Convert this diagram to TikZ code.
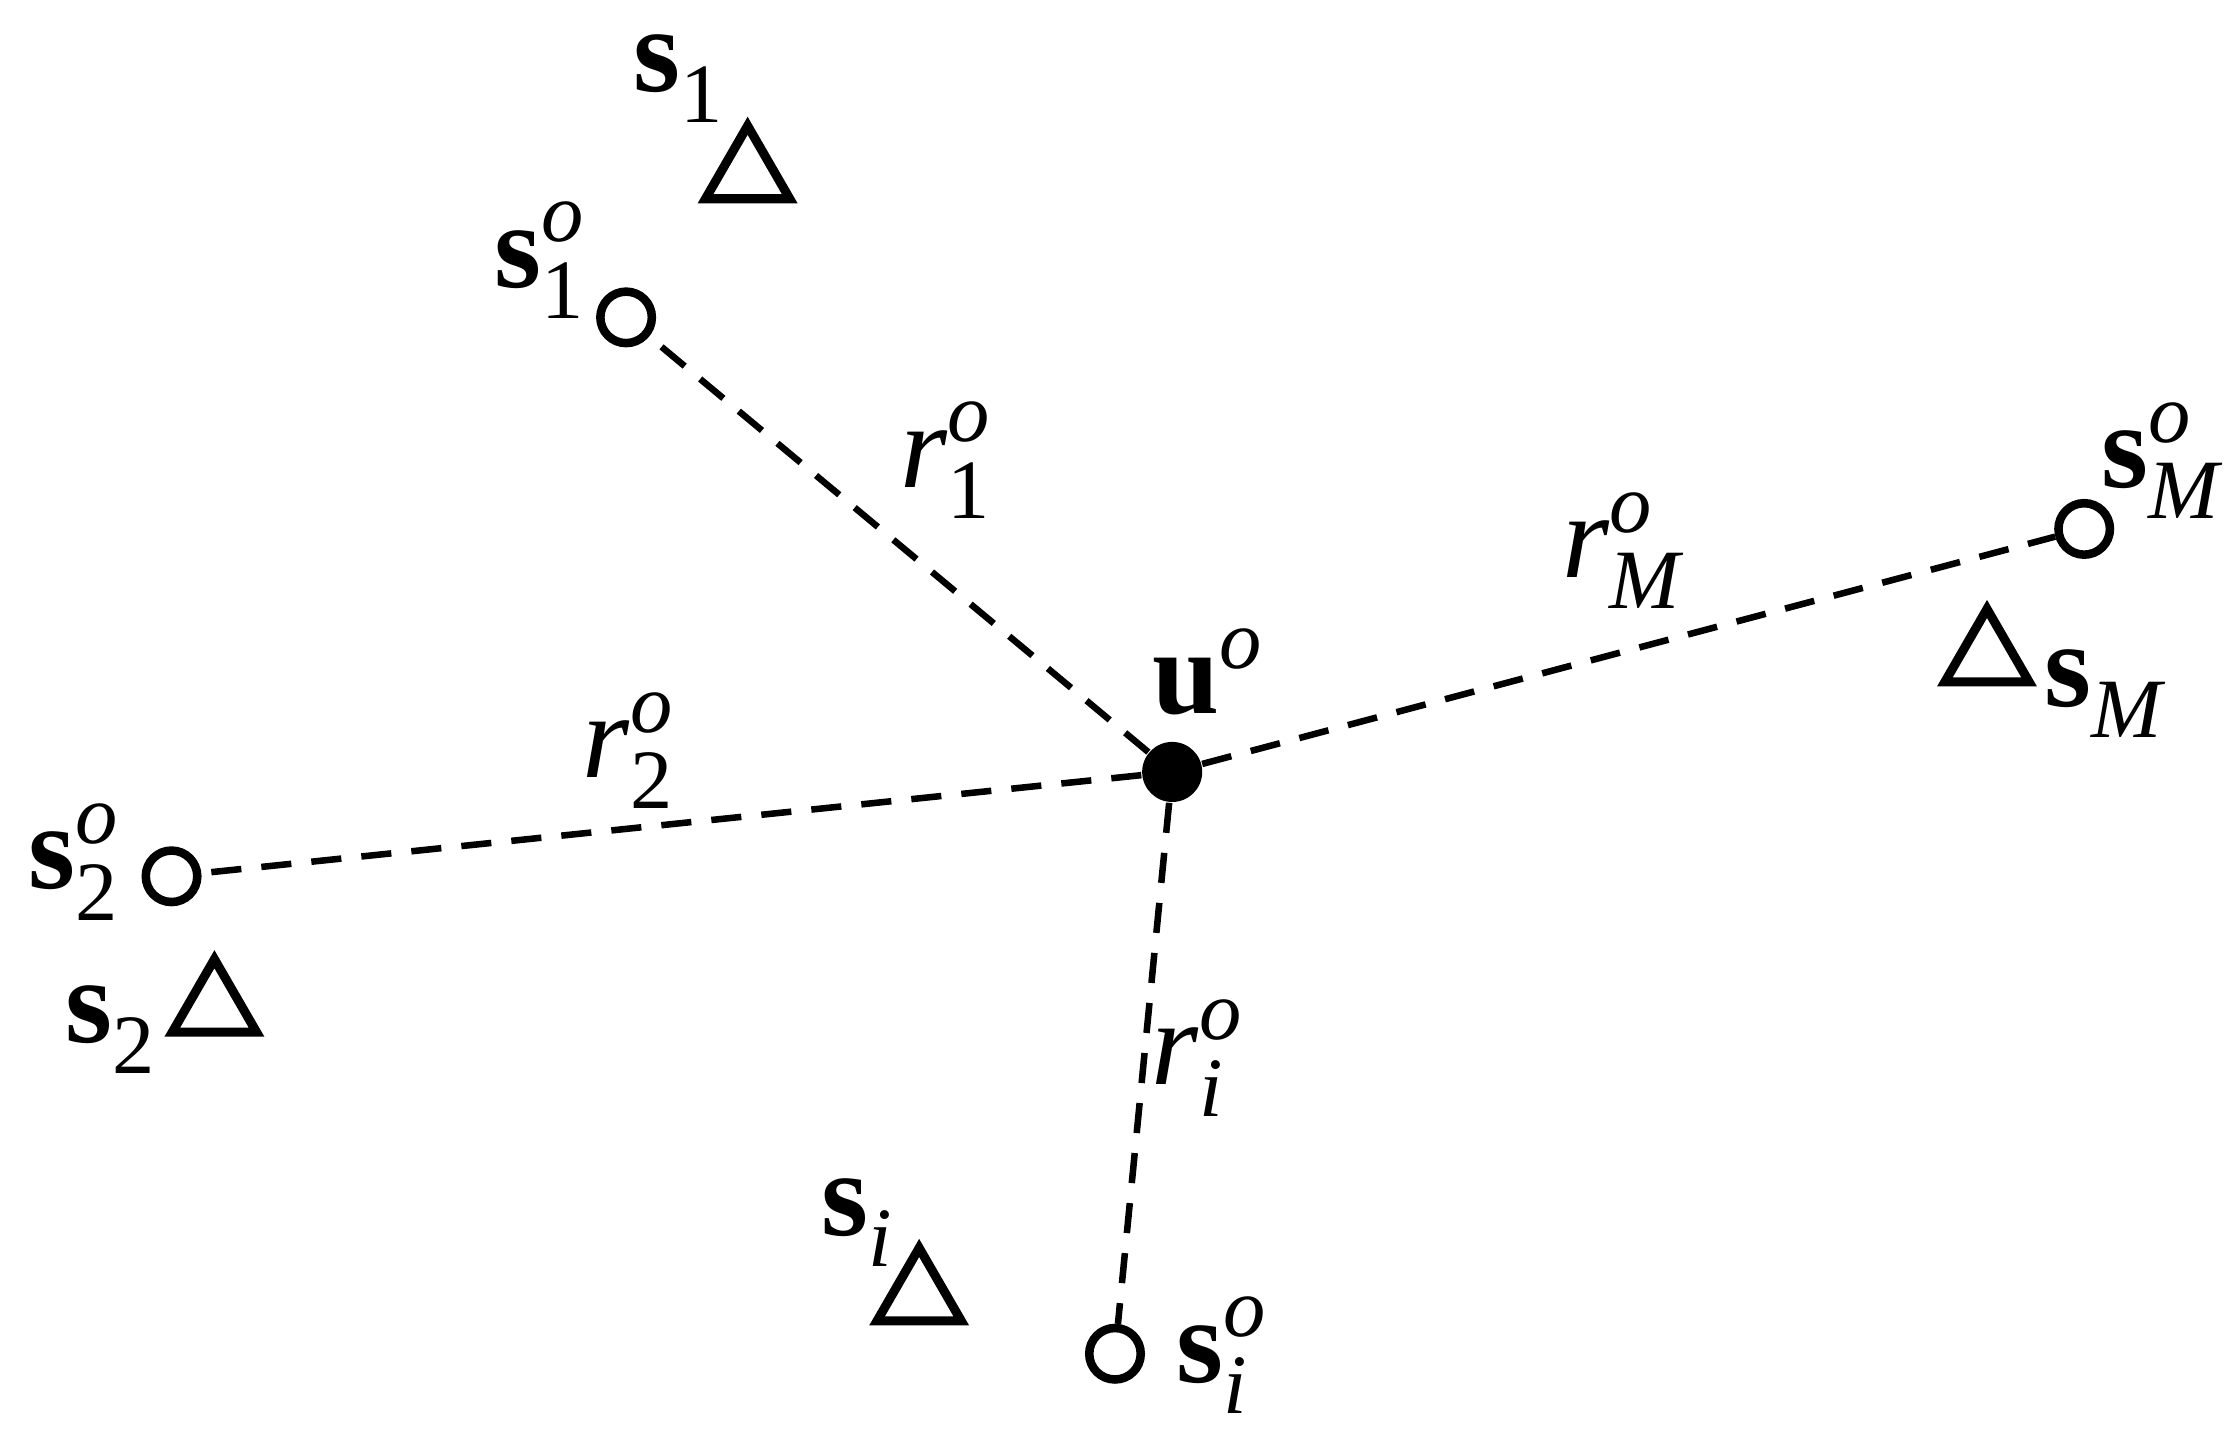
\documentclass[tikz,border=0pt]{standalone}
\usepackage{amsmath}
\usepackage{fontspec}
\setmainfont{Liberation Serif}
\usetikzlibrary{shapes.geometric}
\newcommand\lab[3]{#1$^{\text{\itshape #2}}_{\text{#3}}$}
\begin{document}
\begin{tikzpicture}[x=0.01cm,y=-0.01cm,
  truep/.style={circle,draw,line width=1.7pt,minimum size=0.36cm,inner sep=0pt},
  est/.style={regular polygon,regular polygon sides=3,draw,line width=1.8pt,minimum size=0.68cm,inner sep=0pt},
  srcp/.style={circle,fill,minimum size=0.42cm,inner sep=0pt},
  lbl/.style={font=\fontsize{24}{28}\selectfont,inner sep=0pt},
  link/.style={line width=1.3pt,dash pattern=on 6pt off 4pt}]
\useasboundingbox (0,0) rectangle (1560,999);
\node[srcp] (u) at (820,540) {};
\node[truep] (s1o) at (438,222) {};
\node[truep] (s2o) at (120,613) {};
\node[truep] (sio) at (780,947) {};
\node[truep] (sMo) at (1458,370) {};
\node[est] (s1) at (523,122) {};
\node[est] (s2) at (150,705) {};
\node[est] (si) at (643,907) {};
\node[est] (sM) at (1390,460) {};
\draw[link] (u) -- (s1o);
\draw[link] (u) -- (s2o);
\draw[link] (u) -- (sio);
\draw[link] (u) -- (sMo);
\node[lbl] (lu) at (845,470) {\textbf{u}$^{\text{\itshape o}}$};
\node[lbl] (ls1o) at (378,182) {\lab{\textbf{s}}{o}{1}};
\node[lbl] (ls1) at (475,55) {\lab{\textbf{s}}{}{1}};
\node[lbl] (ls2o) at (52,603) {\lab{\textbf{s}}{o}{2}};
\node[lbl] (ls2) at (78,720) {\lab{\textbf{s}}{}{2}};
\node[lbl] (lsio) at (855,948) {\lab{\textbf{s}}{o}{\itshape i}};
\node[lbl] (lsi) at (600,855) {\lab{\textbf{s}}{}{\itshape i}};
\node[lbl] (lsMo) at (1512,322) {\lab{\textbf{s}}{o}{\itshape M}};
\node[lbl] (lsM) at (1472,485) {\lab{\textbf{s}}{}{\itshape M}};
\node[lbl] (r1) at (662,322) {\lab{\textit{r}}{o}{1}};
\node[lbl] (rM) at (1135,385) {\lab{\textit{r}}{o}{\itshape M}};
\node[lbl] (r2) at (440,525) {\lab{\textit{r}}{o}{2}};
\node[lbl] (ri) at (838,740) {\lab{\textit{r}}{o}{\itshape i}};
\end{tikzpicture}
\end{document}
